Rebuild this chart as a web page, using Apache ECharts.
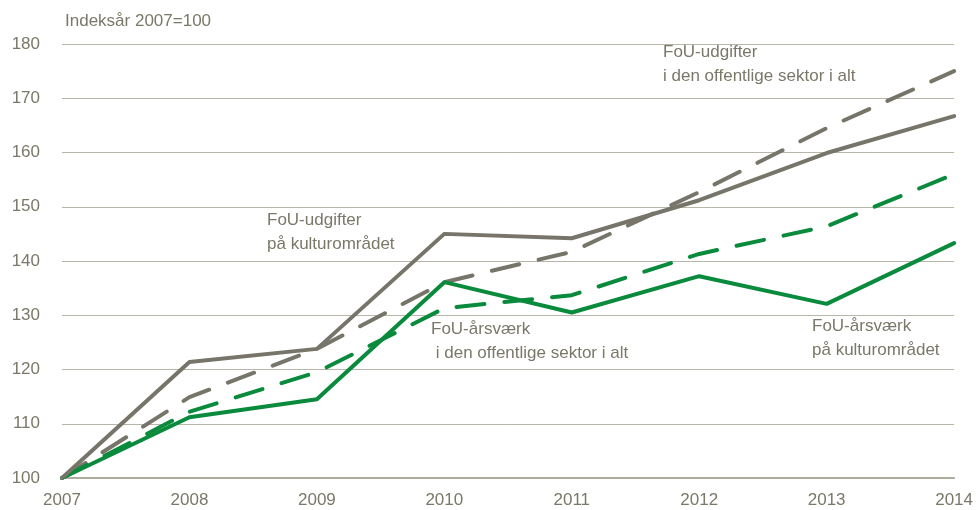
<!DOCTYPE html>
<html><head><meta charset="utf-8">
<script src="https://cdn.jsdelivr.net/npm/echarts@6/dist/echarts.min.js"></script>
<style>html,body{margin:0;padding:0;background:#fff}#c{width:976px;height:510px}</style>
</head><body><div id="c"></div>
<script>
const years = ['2007','2008','2009','2010','2011','2012','2013','2014'];
const udgifterKultur = [100, 121.4, 123.8, 145.0, 144.2, 151.2, 159.9, 166.7];
const udgifterTotal = [100, 114.9, 123.8, 136.1, 141.7, 152.7, 164.5, 175.0];
const aarsvaerkKultur = [100, 111.2, 114.5, 136.1, 130.5, 137.2, 132.1, 143.3];
const aarsvaerkTotal = [100, 112.2, 119.5, 131.3, 133.7, 141.3, 146.4, 156.0];
const yTicks = [100, 110, 120, 130, 140, 150, 160, 170, 180];

const GRAY = '#77756a', GREEN = '#0a8a3c', TXT = '#7a7868';
const FONT = '"Liberation Sans Narrow", "Arial Narrow", "Liberation Sans", sans-serif';

const chart = echarts.init(document.getElementById('c'), null, {renderer: 'canvas'});
function txt(x, y, s) {
  return {type: 'text', left: x, top: y, style: {text: s, font: '17px ' + FONT, fill: TXT, lineHeight: 24}};
}
function ser(data, color, dashed) {
  return {type: 'line', data: data, symbol: 'none', smooth: false,
    lineStyle: {color: color, width: 4, type: dashed ? [28, 20] : 'solid', cap: 'round', join: 'round'}};
}
chart.setOption({
  animation: false,
  grid: {left: 62, right: 21, top: 44, bottom: 32},
  xAxis: {type: 'category', data: years, boundaryGap: false,
    axisLine: {show: true, lineStyle: {color: '#aeac9c', width: 2}},
    axisTick: {show: false},
    axisLabel: {color: TXT, fontFamily: FONT, fontSize: 17, margin: 14, showMinLabel: true, showMaxLabel: true}},
  yAxis: {type: 'value', min: yTicks[0], max: yTicks[yTicks.length-1], interval: 10,
    axisLine: {show: false}, axisTick: {show: false},
    axisLabel: {color: TXT, fontFamily: FONT, fontSize: 17, margin: 22},
    splitLine: {lineStyle: {color: '#b8b6a8', width: 1}}},
  graphic: [
    txt(65, 9, 'Indeksår 2007=100'),
    txt(663, 40, 'FoU-udgifter\ni den offentlige sektor i alt'),
    txt(267, 208, 'FoU-udgifter\npå kulturområdet'),
    txt(431, 317, 'FoU-årsværk\n i den offentlige sektor i alt'),
    txt(812, 314, 'FoU-årsværk\npå kulturområdet')
  ],
  series: [
    ser(udgifterTotal, GRAY, true),
    ser(aarsvaerkTotal, GREEN, true),
    ser(aarsvaerkKultur, GREEN, false),
    ser(udgifterKultur, GRAY, false)
  ]
});
</script></body></html>
